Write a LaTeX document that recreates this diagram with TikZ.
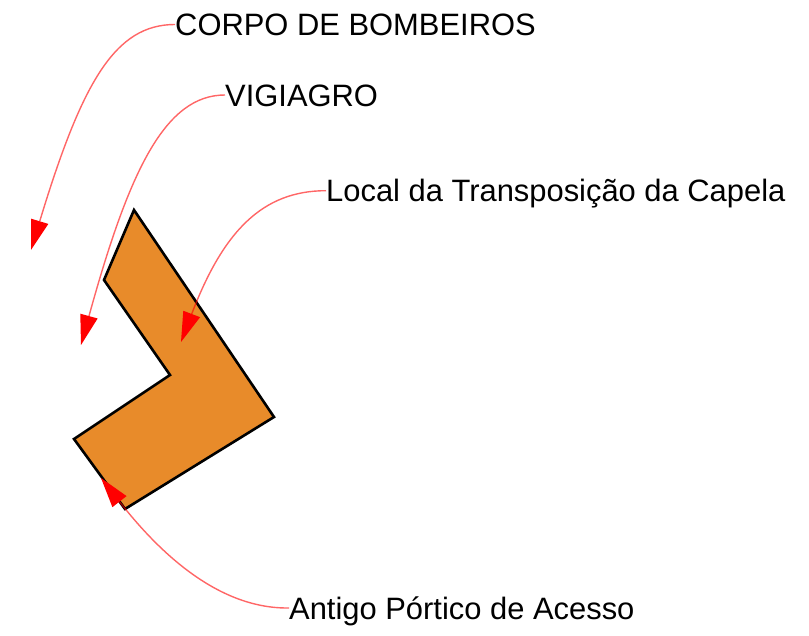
\documentclass[tikz,border=0pt]{standalone}
\usepackage{fontspec}
\setmainfont{Liberation Sans}
\usetikzlibrary{arrows.meta}
\tikzset{
  label text/.style={inner sep=0pt,anchor=west,text height=22.5pt,text depth=0pt,font=\fontsize{30.9}{33}\selectfont,text=black},
  callout/.style={draw=red,draw opacity=.6,line width=1.4pt,-{Triangle[length=30pt,width=18pt,line width=0pt,fill=red]}},
  plot shape/.style={draw=black,line width=2.6pt,fill=plotorange,line join=miter}
}
\definecolor{plotorange}{RGB}{232,139,42}
\begin{document}
\begin{tikzpicture}[x=1pt,y=-1pt]
\useasboundingbox (0,0) rectangle (809,636);
\draw[plot shape] (134,210) -- (104,280) -- (170,375) -- (74,439) -- (125,509) -- (274,417) -- cycle;
\node[label text] (bombeiros) at (175,24.5) {CORPO DE BOMBEIROS};
\node[label text] (vigiagro) at (225,95) {VIGIAGRO};
\node[label text] (capela) at (326,190.7) {Local da Transposição da Capela};
\node[label text] (portico) at (289,608) {Antigo Pórtico de Acesso};
\coordinate (t1) at (31,250);
\coordinate (t2) at (81,345);
\coordinate (t3) at (181,342);
\coordinate (t4) at (101,478);
\draw[callout] (bombeiros.west) .. controls (115,24.5) and (82,82) .. (t1);
\draw[callout] (vigiagro.west) .. controls (165,95) and (129,171) .. (t2);
\draw[callout] (capela.west) .. controls (262,190.7) and (223,232) .. (t3);
\draw[callout] (portico.west) .. controls (215,609) and (155,547) .. (t4);
\end{tikzpicture}
\end{document}
